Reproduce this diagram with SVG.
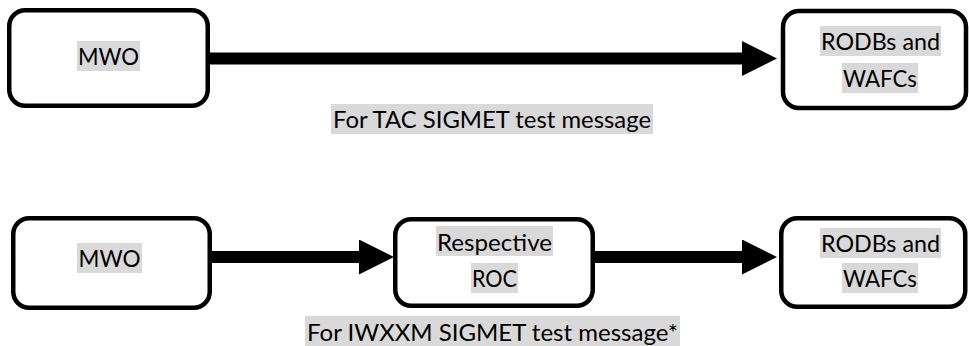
<svg xmlns="http://www.w3.org/2000/svg" width="969" height="346" viewBox="0 0 969 346">
  <style>
    .box { fill: #ffffff; stroke: #000000; stroke-width: 4.5; }
    .hl { fill: #d9d9d9; }
    .t { font-family: Lato, "Open Sans", "Liberation Sans", sans-serif; font-size: 24px; fill: #000000; text-anchor: middle; }
    .conn { stroke: #000000; stroke-width: 12; fill: none; }
  </style>
  <defs>
    <marker id="arrow" markerUnits="userSpaceOnUse" viewBox="0 0 35 35" markerWidth="35" markerHeight="35" refX="1" refY="17.5" orient="auto">
      <path d="M0,0 L35,17.5 L0,35 Z" fill="#000000"/>
    </marker>
  </defs>
  <rect width="969" height="346" fill="#ffffff"/>

  <g id="connectors">
    <line class="conn" x1="210" y1="58.5" x2="743" y2="58.5" marker-end="url(#arrow)"/>
    <line class="conn" x1="212" y1="257" x2="360" y2="257" marker-end="url(#arrow)"/>
    <line class="conn" x1="595" y1="257" x2="743" y2="257" marker-end="url(#arrow)"/>
  </g>

  <g id="mwo-top">
    <rect class="box" x="9.25" y="10.25" width="198.5" height="95.5" rx="16"/>
    <rect class="hl" x="77" y="41" width="63" height="30"/>
    <text class="t" x="108.5" y="65" textLength="61" lengthAdjust="spacingAndGlyphs">MWO</text>
  </g>

  <g id="rodbs-top">
    <rect class="box" x="783" y="11" width="183" height="97" rx="16"/>
    <rect class="hl" x="820" y="26" width="121" height="30"/>
    <text class="t" x="880.5" y="50" textLength="119" lengthAdjust="spacingAndGlyphs">RODBs and</text>
    <rect class="hl" x="842" y="63" width="76" height="30"/>
    <text class="t" x="880" y="87" textLength="74" lengthAdjust="spacingAndGlyphs">WAFCs</text>
  </g>

  <g id="label-tac">
    <rect class="hl" x="331" y="104" width="322" height="30"/>
    <text class="t" x="492" y="128" textLength="318" lengthAdjust="spacingAndGlyphs">For TAC SIGMET test message</text>
  </g>

  <g id="mwo-bottom">
    <rect class="box" x="13.25" y="218.25" width="196.5" height="89.5" rx="16"/>
    <rect class="hl" x="77" y="243" width="65" height="30"/>
    <text class="t" x="109.5" y="267" textLength="62" lengthAdjust="spacingAndGlyphs">MWO</text>
  </g>

  <g id="roc">
    <rect class="box" x="395.25" y="219.25" width="197.5" height="86.5" rx="16"/>
    <rect class="hl" x="436" y="226" width="117" height="30"/>
    <text class="t" x="494.5" y="251" textLength="115" lengthAdjust="spacingAndGlyphs">Respective</text>
    <rect class="hl" x="471" y="263" width="47" height="30"/>
    <text class="t" x="494.5" y="287" textLength="45" lengthAdjust="spacingAndGlyphs">ROC</text>
  </g>

  <g id="rodbs-bottom">
    <rect class="box" x="781.25" y="218.25" width="184" height="88.5" rx="16"/>
    <rect class="hl" x="820" y="228" width="121" height="30"/>
    <text class="t" x="880.5" y="252" textLength="119" lengthAdjust="spacingAndGlyphs">RODBs and</text>
    <rect class="hl" x="842" y="263" width="76" height="30"/>
    <text class="t" x="880" y="287" textLength="74" lengthAdjust="spacingAndGlyphs">WAFCs</text>
  </g>

  <g id="label-iwxxm">
    <rect class="hl" x="305" y="316" width="375" height="30"/>
    <text class="t" x="492.5" y="341" textLength="371" lengthAdjust="spacingAndGlyphs">For IWXXM SIGMET test message*</text>
  </g>
</svg>
